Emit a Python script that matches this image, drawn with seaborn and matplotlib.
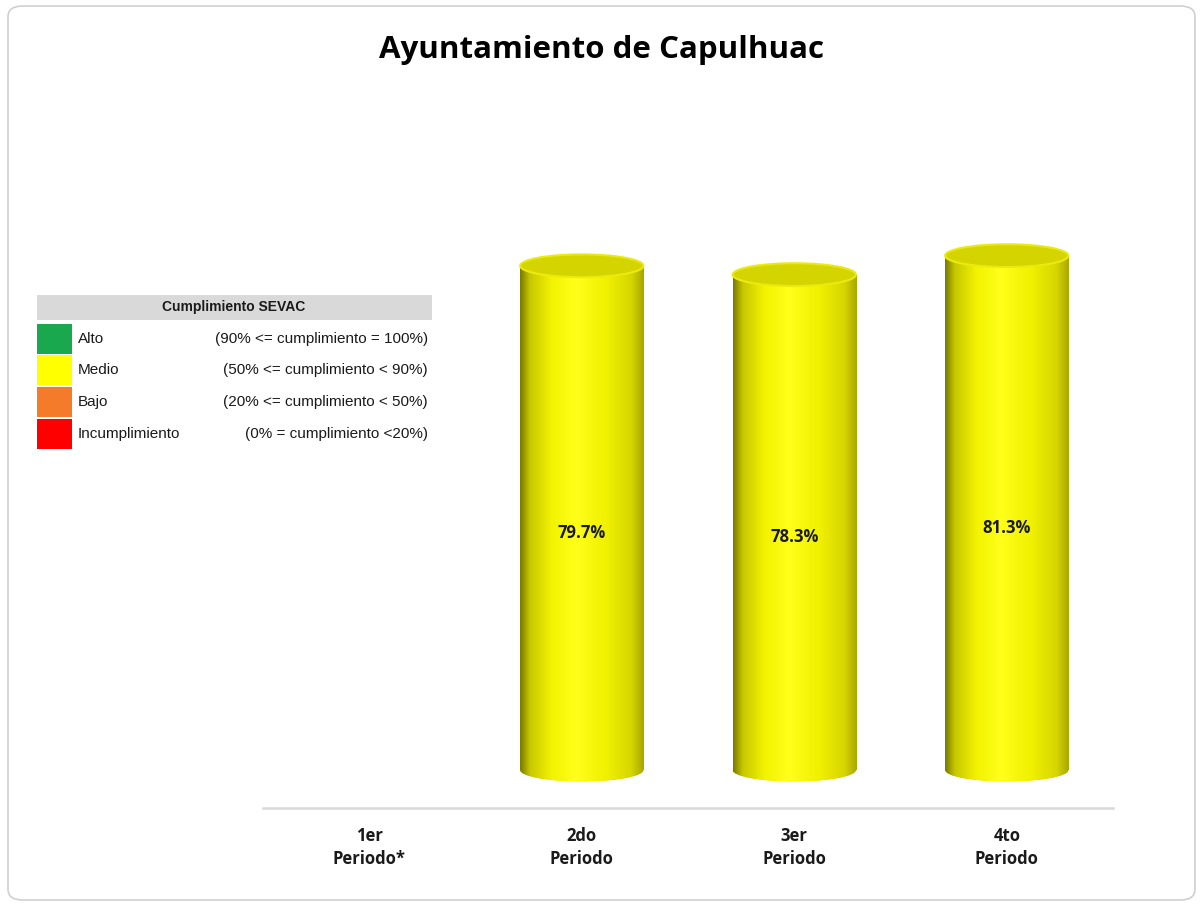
import numpy as np
import pandas as pd
import matplotlib
matplotlib.use('Agg')
import matplotlib.pyplot as plt
import seaborn as sns
from matplotlib.patches import Ellipse, FancyBboxPatch, Rectangle
from matplotlib.colors import LinearSegmentedColormap

# Datos del gráfico
periodos = ['1er\nPeriodo*', '2do\nPeriodo', '3er\nPeriodo', '4to\nPeriodo']
cumplimiento = [np.nan, 79.7, 78.3, 81.3]

# Tabla de semáforo SEVAC
niveles = ['Alto', 'Medio', 'Bajo', 'Incumplimiento']
rangos = ['(90% <= cumplimiento = 100%)', '(50% <= cumplimiento < 90%)',
          '(20% <= cumplimiento < 50%)', '(0% = cumplimiento <20%)']
colores_nivel = ['#1aa84f', '#ffff00', '#f47b2a', '#ff0000']

sns.set_theme(style='white')
plt.rcParams['font.family'] = ['Open Sans', 'DejaVu Sans']

fig = plt.figure(figsize=(12.03, 9.06), dpi=100)
ax = fig.add_axes([263 / 1203, 1 - 808 / 906, 850 / 1203, (808 - 150) / 906])

df = pd.DataFrame({'Periodo': periodos, 'Cumplimiento': cumplimiento})
sns.barplot(data=df, x='Periodo', y='Cumplimiento', color='#ffff00',
            width=0.58, ax=ax, saturation=1)
ax.set_ylim(-6, 98)
ax.set_xlim(-0.5, 3.5)

# sombreado tipo cilindro
cmap = LinearSegmentedColormap.from_list('cil', [
    (0.0, '#7a7a00'), (0.08, '#c8c800'), (0.25, '#f2f200'), (0.45, '#ffff1a'),
    (0.7, '#f0f000'), (0.9, '#d6d600'), (1.0, '#a8a800')])
grad = np.linspace(0, 1, 256).reshape(1, -1)
cap_h = 3.6
for p in list(ax.patches):
    x0, w = p.get_x(), p.get_width()
    cx = x0 + w / 2
    v = p.get_height()
    p.set_visible(False)
    if np.isnan(v) or v == 0:
        continue
    # fondo redondeado
    ax.add_patch(Ellipse((cx, 0), w, cap_h, facecolor='#d8d800', edgecolor='none', zorder=2))
    im = ax.imshow(grad, cmap=cmap, aspect='auto', extent=[x0, x0 + w, -cap_h / 2, v],
                   zorder=2.5)
    im.set_clip_path(Rectangle((x0, 0), w, v, transform=ax.transData))
    im2 = ax.imshow(grad, cmap=cmap, aspect='auto', extent=[x0, x0 + w, -cap_h / 2, 0],
                    zorder=2.5)
    im2.set_clip_path(Ellipse((cx, 0), w, cap_h, transform=ax.transData))
    # tapa superior
    ax.add_patch(Ellipse((cx, v), w, cap_h, facecolor='#d4d400', edgecolor='#eaea10',
                         linewidth=1.5, zorder=3))
    ax.text(cx, v * 0.47, f'{v:.1f}%', ha='center', va='center', fontsize=12,
            fontweight='bold', color='#1a1a1a', zorder=4)

ax.set_xlabel('')
ax.set_ylabel('')
ax.set_yticks([])
sns.despine(ax=ax, left=True, top=True, right=True)
ax.spines['bottom'].set_color('#d9d9d9')
ax.spines['bottom'].set_linewidth(1.8)
ax.tick_params(axis='x', length=0, pad=14)
for lbl in ax.get_xticklabels():
    lbl.set_fontweight('bold')
    lbl.set_fontsize(12)
    lbl.set_color('#1a1a1a')
    lbl.set_linespacing(1.3)

fig.text(0.5, 1 - 50 / 906, 'Ayuntamiento de Capulhuac', ha='center', va='center',
         fontsize=22.5, fontweight='bold', color='black')

# marco redondeado
frame = FancyBboxPatch((8 / 1203, 6 / 906), 1187 / 1203, 894 / 906,
                       boxstyle='round,pad=0,rounding_size=0.012',
                       transform=fig.transFigure, facecolor='none',
                       edgecolor='#d0d0d0', linewidth=1.2)
fig.patches.append(frame)

# tabla de semáforo
def fx(px):
    return px / 1203

def fy(py):
    return 1 - py / 906

fig.patches.append(Rectangle((fx(37), fy(320)), fx(432) - fx(37), fy(295) - fy(320),
                             transform=fig.transFigure, facecolor='#d9d9d9', edgecolor='none'))
fig.text(fx(234), fy(307.5), 'Cumplimiento SEVAC', ha='center', va='center',
         fontsize=10, fontweight='bold', family=['Liberation Sans'], color='#1a1a1a')
row_y = [339, 370, 402, 434]
for yy, nivel, rango, c in zip(row_y, niveles, rangos, colores_nivel):
    fig.patches.append(Rectangle((fx(37), fy(yy + 15)), fx(72) - fx(37), fy(yy - 15) - fy(yy + 15),
                                 transform=fig.transFigure, facecolor=c, edgecolor='none'))
    fig.text(fx(78), fy(yy), nivel, ha='left', va='center', fontsize=11,
             family=['Liberation Sans'], color='#1a1a1a')
    fig.text(fx(428), fy(yy), rango, ha='right', va='center', fontsize=11,
             family=['Liberation Sans'], color='#1a1a1a')

fig.savefig('out.png', dpi=100, facecolor='white')
